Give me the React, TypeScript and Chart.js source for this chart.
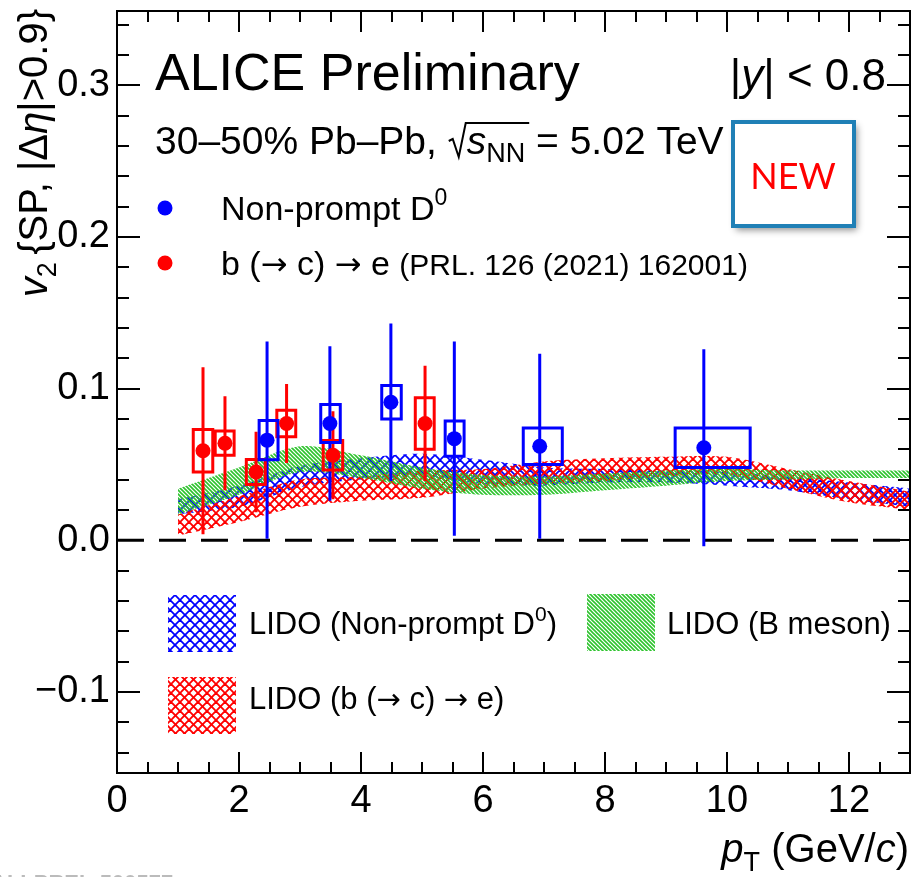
import React, { useEffect, useRef } from 'react';
import { Chart, registerables } from 'chart.js';

Chart.register(...registerables);

const FONT = '"Liberation Sans", Arial, Helvetica, sans-serif';
const ARROW_FONT = '"DejaVu Sans", sans-serif';

// ---------------- data ----------------
// Non-prompt D0 (ALICE)
const npD0Pt = [2.46, 3.49, 4.49, 5.53, 6.93, 9.62];
const npD0V2 = [0.066, 0.077, 0.091, 0.067, 0.062, 0.061];
const npD0Stat = [0.065, 0.051, 0.052, 0.064, 0.061, 0.065];
const npD0Syst = [0.013, 0.0125, 0.011, 0.0116, 0.012, 0.013];
const npD0SysPtLo = [2.33, 3.34, 4.34, 5.38, 6.66, 9.15];
const npD0SysPtHi = [2.64, 3.66, 4.66, 5.69, 7.3, 10.38];

// b (-> c) -> e (PRL 126 (2021) 162001)
const bcePt = [1.41, 1.77, 2.28, 2.78, 3.54, 5.05];
const bceV2 = [0.059, 0.064, 0.045, 0.077, 0.056, 0.077];
const bceStat = [0.055, 0.031, 0.0265, 0.026, 0.029, 0.038];
const bceSyst = [0.014, 0.008, 0.0083, 0.0087, 0.0097, 0.017];
const bceSysPtLo = [1.25, 1.61, 2.12, 2.62, 3.38, 4.89];
const bceSysPtHi = [1.57, 1.92, 2.43, 2.93, 3.7, 5.2];

// LIDO model bands
const modelPt = [1, 2, 3, 4, 5, 6, 7, 8, 9, 10, 11, 12, 13];
const lidoD0Up = [0.027, 0.036, 0.049, 0.054, 0.057, 0.053, 0.048, 0.047, 0.046, 0.045, 0.042, 0.038, 0.034];
const lidoD0Lo = [0.017, 0.022, 0.035, 0.04, 0.042, 0.037, 0.036, 0.038, 0.038, 0.036, 0.033, 0.027, 0.022];
const lidoEUp = [0.017, 0.029, 0.04, 0.042, 0.046, 0.047, 0.052, 0.054, 0.055, 0.055, 0.047, 0.039, 0.032];
const lidoELo = [0.003, 0.012, 0.022, 0.026, 0.028, 0.034, 0.037, 0.039, 0.042, 0.043, 0.034, 0.025, 0.02];
const lidoBUp = [0.034, 0.048, 0.062, 0.056, 0.048, 0.043, 0.042, 0.044, 0.046, 0.047, 0.046, 0.046, 0.046];
const lidoBLo = [0.017, 0.03, 0.045, 0.041, 0.034, 0.03, 0.03, 0.033, 0.036, 0.039, 0.04, 0.041, 0.041];

// axes
const xRange = [0, 13];
const yRange = [-0.1535, 0.349];
const xTickLabels = [0, 2, 4, 6, 8, 10, 12];
const yTickLabels = [-0.1, 0, 0.1, 0.2, 0.3];

// ---------------- helpers ----------------
type Part = { t: string; size: number; italic?: boolean; bold?: boolean; dy?: number; family?: string };

function setFont(ctx: CanvasRenderingContext2D, p: Part) {
  ctx.font = `${p.italic ? 'italic ' : ''}${p.bold ? 'bold ' : ''}${p.size}px ${p.family || FONT}`;
}
function richWidth(ctx: CanvasRenderingContext2D, parts: Part[]) {
  let w = 0;
  for (const p of parts) {
    setFont(ctx, p);
    w += ctx.measureText(p.t).width;
  }
  return w;
}
function drawRich(ctx: CanvasRenderingContext2D, parts: Part[], x: number, y: number, align: 'left' | 'right' = 'left') {
  let cx = align === 'right' ? x - richWidth(ctx, parts) : x;
  ctx.textAlign = 'left';
  ctx.textBaseline = 'alphabetic';
  for (const p of parts) {
    setFont(ctx, p);
    ctx.fillText(p.t, cx, y + (p.dy || 0));
    cx += ctx.measureText(p.t).width;
  }
  return cx;
}

function makePattern(kind: 'blue' | 'red' | 'green'): CanvasPattern {
  const c = document.createElement('canvas');
  const s = kind === 'green' ? 4 : kind === 'blue' ? 10 : 9;
  c.width = s;
  c.height = s;
  const g = c.getContext('2d')!;
  if (kind === 'green') {
    g.strokeStyle = 'rgb(45,195,45)';
    g.lineWidth = 1.6;
    for (let k = -1; k <= 1; k++) {
      g.beginPath();
      g.moveTo(k * s - 2, -2);
      g.lineTo(k * s + s + 2, s + 2);
      g.stroke();
    }
  } else {
    g.strokeStyle = kind === 'blue' ? 'rgb(0,0,255)' : 'rgb(255,0,0)';
    g.lineWidth = kind === 'blue' ? 1.8 : 1.9;
    for (let k = -1; k <= 1; k++) {
      g.beginPath();
      g.moveTo(k * s - 2, -2);
      g.lineTo(k * s + s + 2, s + 2);
      g.stroke();
      g.beginPath();
      g.moveTo(k * s + s + 2, -2);
      g.lineTo(k * s - 2, s + 2);
      g.stroke();
    }
  }
  return g.createPattern(c, 'repeat')!;
}

function errSegs(xs: number[], ys: number[], errs: number[]) {
  const out: any[] = [];
  xs.forEach((x, i) => {
    out.push({ x, y: ys[i] - errs[i] }, { x, y: ys[i] + errs[i] }, { x, y: null });
  });
  return out;
}
function boxSegs(ys: number[], sys: number[], lo: number[], hi: number[]) {
  const out: any[] = [];
  ys.forEach((y, i) => {
    out.push(
      { x: lo[i], y: y - sys[i] },
      { x: hi[i], y: y - sys[i] },
      { x: hi[i], y: y + sys[i] },
      { x: lo[i], y: y + sys[i] },
      { x: lo[i], y: y - sys[i] },
      { x: lo[i], y: null }
    );
  });
  return out;
}

function fmtY(v: number) {
  if (Math.abs(v) < 1e-9) return '0.0';
  return v < 0 ? '\u2212' + Math.abs(v).toFixed(1) : v.toFixed(1);
}

const zeroPad = (s: any) => {
  s.paddingTop = 0;
  s.paddingBottom = 0;
  s.paddingLeft = 0;
  s.paddingRight = 0;
};

export default function App() {
  const ref = useRef<HTMLCanvasElement | null>(null);

  useEffect(() => {
    document.body.style.margin = '0';
    const canvas = ref.current!;
    const pBlue = makePattern('blue');
    const pRed = makePattern('red');
    const pGreen = makePattern('green');

    const band = (up: number[], lo: number[], pat: CanvasPattern, order: number) => [
      {
        type: 'line',
        data: modelPt.map((x, i) => ({ x, y: up[i] })),
        borderWidth: 0,
        borderColor: 'rgba(0,0,0,0)',
        backgroundColor: pat,
        pointRadius: 0,
        fill: '+1',
        tension: 0.3,
        order,
      },
      {
        type: 'line',
        data: modelPt.map((x, i) => ({ x, y: lo[i] })),
        borderWidth: 0,
        borderColor: 'rgba(0,0,0,0)',
        pointRadius: 0,
        fill: false,
        tension: 0.3,
        order,
      },
    ];

    const decor = {
      id: 'decor',
      beforeDraw(chart: any) {
        const ctx = chart.ctx;
        ctx.save();
        ctx.fillStyle = '#fff';
        ctx.fillRect(0, 0, chart.width, chart.height);
        ctx.restore();
      },
      afterDraw(chart: any) {
        const ctx: CanvasRenderingContext2D = chart.ctx;
        const { left, right, top, bottom } = chart.chartArea;
        const xs = chart.scales.x;
        const ys = chart.scales.y;
        ctx.save();
        ctx.strokeStyle = '#000';
        ctx.lineWidth = 2;
        // ticks
        ctx.beginPath();
        for (let i = 0; i <= 26; i++) {
          const v = i * 0.5;
          const px = Math.round(xs.getPixelForValue(v));
          const len = i % 4 === 0 ? 21 : 11;
          ctx.moveTo(px, bottom);
          ctx.lineTo(px, bottom - len);
          ctx.moveTo(px, top);
          ctx.lineTo(px, top + len);
        }
        for (let i = -7; i <= 17; i++) {
          const v = i * 0.02;
          const py = Math.round(ys.getPixelForValue(v));
          const len = i % 5 === 0 ? 23 : 12;
          ctx.moveTo(left, py);
          ctx.lineTo(left + len, py);
          ctx.moveTo(right, py);
          ctx.lineTo(right - len, py);
        }
        ctx.stroke();
        // frame
        ctx.strokeRect(left, top, right - left, bottom - top);

        ctx.fillStyle = '#000';
        // header texts
        drawRich(ctx, [{ t: 'ALICE Preliminary', size: 52 }], 155, 90);
        drawRich(
          ctx,
          [
            { t: '|', size: 44 },
            { t: 'y', size: 44, italic: true },
            { t: '| < 0.8', size: 44 },
          ],
          886,
          90,
          'right'
        );
        // subtitle with sqrt
        let cx = drawRich(ctx, [{ t: '30\u201350% Pb\u2013Pb, ', size: 39 }], 155, 154);
        const by = 154;
        const rx = cx + 1;
        const sStart = rx + 18;
        setFont(ctx, { t: '', size: 39, italic: true });
        const sW = ctx.measureText('s').width;
        setFont(ctx, { t: '', size: 27 });
        const nnW = ctx.measureText('NN').width;
        ctx.beginPath();
        ctx.lineWidth = 2;
        ctx.moveTo(rx, by - 13);
        ctx.lineTo(rx + 4, by - 15);
        ctx.lineTo(rx + 10, by + 3);
        ctx.lineTo(rx + 17, by - 31);
        ctx.lineTo(sStart + sW + nnW + 4, by - 31);
        ctx.stroke();
        drawRich(
          ctx,
          [
            { t: 's', size: 39, italic: true },
            { t: 'NN', size: 27, dy: 8 },
            { t: ' = 5.02 TeV', size: 39 },
          ],
          sStart,
          by
        );

        // data legend
        ctx.fillStyle = '#0000ff';
        ctx.beginPath();
        ctx.arc(165, 208, 7.5, 0, Math.PI * 2);
        ctx.fill();
        ctx.fillStyle = '#ff0000';
        ctx.beginPath();
        ctx.arc(165, 263, 7.5, 0, Math.PI * 2);
        ctx.fill();
        ctx.fillStyle = '#000';
        drawRich(
          ctx,
          [
            { t: 'Non-prompt D', size: 34 },
            { t: '0', size: 23, dy: -15 },
          ],
          221,
          220
        );
        drawRich(
          ctx,
          [
            { t: 'b (', size: 34 },
            { t: '\u2192', size: 32, family: ARROW_FONT },
            { t: ' c) ', size: 34 },
            { t: '\u2192', size: 32, family: ARROW_FONT },
            { t: ' e ', size: 34 },
            { t: '(PRL. 126 (2021) 162001)', size: 30 },
          ],
          221,
          275
        );

        // NEW box
        ctx.save();
        ctx.shadowColor = 'rgba(0,0,0,0.45)';
        ctx.shadowBlur = 7;
        ctx.shadowOffsetX = 3;
        ctx.shadowOffsetY = 4;
        ctx.fillStyle = '#fff';
        ctx.fillRect(733, 122, 121, 104);
        ctx.restore();
        ctx.strokeStyle = 'rgb(32,128,182)';
        ctx.lineWidth = 4;
        ctx.strokeRect(733, 122, 121, 104);
        ctx.fillStyle = '#ff0000';
        ctx.font = '36px Lato, "Open Sans", sans-serif';
        ctx.textAlign = 'center';
        ctx.textBaseline = 'alphabetic';
        ctx.fillText('NEW', 793, 189);

        // model legend
        const lbox = (x: number, y: number, pat: CanvasPattern) => {
          ctx.fillStyle = pat;
          ctx.fillRect(x, y, 68, 57);
        };
        lbox(168, 595, pBlue);
        lbox(587, 594, pGreen);
        lbox(168, 677, pRed);
        ctx.fillStyle = '#000';
        drawRich(
          ctx,
          [
            { t: 'LIDO (Non-prompt D', size: 31 },
            { t: '0', size: 21, dy: -13 },
            { t: ')', size: 31 },
          ],
          249,
          634
        );
        drawRich(ctx, [{ t: 'LIDO (B meson)', size: 31 }], 667, 634);
        drawRich(
          ctx,
          [
            { t: 'LIDO (b (', size: 31 },
            { t: '\u2192', size: 29, family: ARROW_FONT },
            { t: ' c) ', size: 31 },
            { t: '\u2192', size: 29, family: ARROW_FONT },
            { t: ' e)', size: 31 },
          ],
          249,
          709
        );

        // x title
        drawRich(
          ctx,
          [
            { t: 'p', size: 40, italic: true },
            { t: 'T', size: 27, dy: 9 },
            { t: ' (GeV/', size: 40 },
            { t: 'c', size: 40, italic: true },
            { t: ')', size: 40 },
          ],
          909,
          862,
          'right'
        );

        // y title (rotated)
        const yParts: Part[] = [
          { t: 'v', size: 40, italic: true },
          { t: '2 ', size: 27, dy: 9 },
          { t: '{SP, |\u0394', size: 40 },
          { t: '\u03b7', size: 40, italic: true },
          { t: '|>0.9}', size: 40 },
        ];
        const yw = richWidth(ctx, yParts);
        ctx.save();
        ctx.translate(47, 9 + yw);
        ctx.rotate(-Math.PI / 2);
        drawRich(ctx, yParts, 0, 0);
        ctx.restore();

        // figure id (cut at bottom)
        ctx.fillStyle = '#bbb';
        drawRich(ctx, [{ t: 'ALI-PREL-500577', size: 22, bold: true }], -9, 890);
        ctx.restore();
      },
    };

    const chart = new Chart(canvas, {
      type: 'line',
      data: {
        datasets: [
          {
            type: 'scatter',
            data: npD0Pt.map((x, i) => ({ x, y: npD0V2[i] })),
            pointRadius: 7.5,
            pointBackgroundColor: '#0000ff',
            pointBorderWidth: 0,
            showLine: false,
            order: 0,
          },
          {
            type: 'scatter',
            data: bcePt.map((x, i) => ({ x, y: bceV2[i] })),
            pointRadius: 7.5,
            pointBackgroundColor: '#ff0000',
            pointBorderWidth: 0,
            showLine: false,
            order: 0,
          },
          {
            type: 'line',
            data: boxSegs(npD0V2, npD0Syst, npD0SysPtLo, npD0SysPtHi),
            borderColor: '#0000ff',
            borderWidth: 3,
            borderCapStyle: 'square',
            borderJoinStyle: 'miter',
            pointRadius: 0,
            fill: false,
            spanGaps: false,
            tension: 0,
            order: 1,
          },
          {
            type: 'line',
            data: boxSegs(bceV2, bceSyst, bceSysPtLo, bceSysPtHi),
            borderColor: '#ff0000',
            borderWidth: 3,
            borderCapStyle: 'square',
            borderJoinStyle: 'miter',
            pointRadius: 0,
            fill: false,
            spanGaps: false,
            tension: 0,
            order: 1,
          },
          {
            type: 'line',
            data: errSegs(npD0Pt, npD0V2, npD0Stat),
            borderColor: '#0000ff',
            borderWidth: 3,
            pointRadius: 0,
            fill: false,
            spanGaps: false,
            tension: 0,
            order: 2,
          },
          {
            type: 'line',
            data: errSegs(bcePt, bceV2, bceStat),
            borderColor: '#ff0000',
            borderWidth: 3,
            pointRadius: 0,
            fill: false,
            spanGaps: false,
            tension: 0,
            order: 2,
          },
          {
            type: 'line',
            data: [
              { x: xRange[0], y: 0 },
              { x: xRange[1], y: 0 },
            ],
            borderColor: '#000',
            borderWidth: 3,
            borderDash: [27, 15],
            pointRadius: 0,
            fill: false,
            order: 3,
          },
          ...band(lidoBUp, lidoBLo, pGreen, 10),
          ...band(lidoEUp, lidoELo, pRed, 11),
          ...band(lidoD0Up, lidoD0Lo, pBlue, 12),
        ] as any,
      },
      options: {
        responsive: false,
        animation: false,
        devicePixelRatio: 1,
        events: [],
        layout: { autoPadding: false, padding: { top: 11, right: 2, left: 0, bottom: 0 } },
        plugins: {
          legend: { display: false },
          tooltip: { enabled: false },
          title: { display: false },
        },
        scales: {
          x: {
            type: 'linear',
            min: xRange[0],
            max: xRange[1],
            grid: { display: false, drawTicks: false },
            border: { display: false },
            ticks: {
              font: { family: FONT, size: 38 },
              color: '#000',
              padding: 6,
              maxRotation: 0,
              autoSkip: false,
              callback: (v: any) => String(v),
            },
            afterBuildTicks: (s: any) => {
              s.ticks = xTickLabels.map((v) => ({ value: v }));
            },
            afterFit: (s: any) => {
              s.height = 104;
              zeroPad(s);
            },
          },
          y: {
            type: 'linear',
            min: yRange[0],
            max: yRange[1],
            grid: { display: false, drawTicks: false },
            border: { display: false },
            ticks: {
              font: { family: FONT, size: 38 },
              color: '#000',
              padding: 7,
              autoSkip: false,
              callback: (v: any) => fmtY(Number(v)),
            },
            afterBuildTicks: (s: any) => {
              s.ticks = yTickLabels.map((v) => ({ value: v }));
            },
            afterFit: (s: any) => {
              s.width = 117;
              zeroPad(s);
            },
          },
        },
      } as any,
      plugins: [decor],
    });
    return () => chart.destroy();
  }, []);

  return (
    <div style={{ position: 'absolute', left: 0, top: 0, width: 912, height: 877, background: '#fff' }}>
      <canvas ref={ref} width={912} height={877} style={{ display: 'block', width: 912, height: 877 }} />
    </div>
  );
}
